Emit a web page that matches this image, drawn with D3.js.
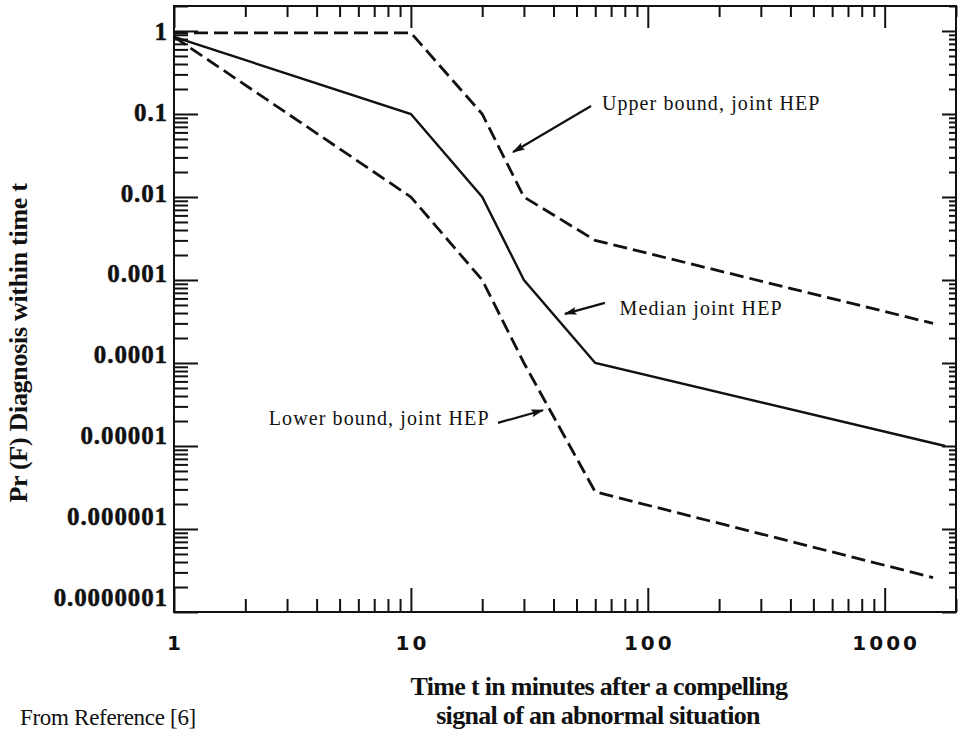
<!DOCTYPE html>
<html>
<head>
<meta charset="utf-8">
<script src="https://cdn.jsdelivr.net/npm/d3@7"></script>
<style>
  body { margin: 0; background: #fff; }
  svg { display: block; }
</style>
</head>
<body>
<svg id="chart" width="962" height="731"></svg>
<script>
// values (time in minutes, probability)
const medianT = [1, 10, 20, 30, 60, 1800];
const medianP = [0.85, 0.1, 0.01, 0.001, 0.0001, 0.00001];

const upperT = [1, 10, 20, 30, 60, 1600];
const upperP = [0.95, 0.95, 0.1, 0.01, 0.003, 0.0003];

const lowerT = [1, 10, 20, 30, 60, 1600];
const lowerP = [0.85, 0.01, 0.001, 0.0001, 0.0000028, 0.00000026];

const xLabels = [1, 10, 100, 1000];
const yLabels = [1, 0.1, 0.01, 0.001, 0.0001, 0.00001, 0.000001, 0.0000001];
const yLabelText = ['1', '0.1', '0.01', '0.001', '0.0001', '0.00001', '0.000001', '0.0000001'];

// annotations: text anchor, arrow tail, arrow tip (data coords)
const noteText = ['Upper bound, joint HEP', 'Median joint HEP', 'Lower bound, joint HEP'];
const noteAnchor = ['start', 'start', 'end'];
const noteXY = [[64, 0.112], [76, 0.00038], [21.5, 0.000018]];
const noteTail = [[57.6, 0.125], [65.9, 0.00053], [23.3, 0.000019]];
const noteTip = [[27, 0.0348], [44.7, 0.00039], [36.1, 0.000027]];

const svg = d3.select('#chart');
const ink = '#111';
const serif = '"Liberation Serif", "Times New Roman", serif';

// plot frame
const fLeft = 174, fRight = 956, fTop = 6, fBottom = 612;

const x = d3.scaleLog().domain([1, 2000]).range([fLeft, fRight]);
const y = d3.scaleLog().domain([1e-7, 2]).range([fBottom, fTop]);

const xMinor = x.ticks().filter(d => !xLabels.includes(d));
const yMinor = y.ticks().filter(d => !yLabels.some(v => Math.abs(v - d) < v * 1e-6));

function tickGroup(axis, tr) {
  svg.append('g')
    .attr('transform', tr)
    .attr('color', ink)
    .call(axis)
    .call(g => g.select('.domain').remove())
    .call(g => g.selectAll('line').attr('stroke-width', 2));
}

// ticks all point into the plot
tickGroup(d3.axisBottom(x).tickValues(xMinor).tickSize(-13).tickFormat(''), `translate(0,${fBottom})`);
tickGroup(d3.axisBottom(x).tickValues(xLabels).tickSize(-24).tickFormat(''), `translate(0,${fBottom})`);
tickGroup(d3.axisTop(x).tickValues(xMinor).tickSize(-11).tickFormat(''), `translate(0,${fTop})`);
tickGroup(d3.axisTop(x).tickValues(xLabels).tickSize(-22).tickFormat(''), `translate(0,${fTop})`);
tickGroup(d3.axisLeft(y).tickValues(yMinor).tickSize(-14).tickFormat(''), `translate(${fLeft},0)`);
tickGroup(d3.axisLeft(y).tickValues(yLabels).tickSize(-24).tickFormat(''), `translate(${fLeft},0)`);
tickGroup(d3.axisRight(y).tickValues(yMinor).tickSize(-7).tickFormat(''), `translate(${fRight},0)`);
tickGroup(d3.axisRight(y).tickValues(yLabels).tickSize(-14).tickFormat(''), `translate(${fRight},0)`);

svg.append('rect')
  .attr('x', fLeft).attr('y', fTop)
  .attr('width', fRight - fLeft).attr('height', fBottom - fTop)
  .attr('fill', 'none')
  .attr('stroke', ink)
  .attr('stroke-width', 2);

// x tick labels
svg.append('g').selectAll('text')
  .data(xLabels)
  .enter().append('text')
  .attr('x', d => x(d) + 1.5)
  .attr('y', 650)
  .attr('text-anchor', 'middle')
  .attr('font-family', '"DejaVu Sans", sans-serif')
  .attr('font-weight', 'bold')
  .attr('font-size', 20)
  .attr('letter-spacing', 3)
  .attr('fill', ink)
  .text(d => d);

// y tick labels (the scan drifts upward a little lower down)
svg.append('g').selectAll('text')
  .data(yLabels)
  .enter().append('text')
  .attr('x', fLeft - 6)
  .attr('y', d => y(d) + 2.1 * Math.log10(d))
  .attr('dy', '0.35em')
  .attr('text-anchor', 'end')
  .attr('font-family', serif)
  .attr('font-weight', 'bold')
  .attr('font-size', 25)
  .attr('letter-spacing', 0.9)
  .attr('fill', ink)
  .attr('stroke', ink)
  .attr('stroke-width', 0.5)
  .text((d, i) => yLabelText[i]);

// curves
const line = d3.line().x(d => x(d[0])).y(d => y(d[1]));
const series = [
  { t: upperT, p: upperP, dash: '14,6', w: 2.8 },
  { t: medianT, p: medianP, dash: null, w: 2.4 },
  { t: lowerT, p: lowerP, dash: '14,6', w: 2.8 }
];

svg.append('g').selectAll('path')
  .data(series)
  .enter().append('path')
  .attr('d', s => line(s.t.map((t, i) => [t, s.p[i]])))
  .attr('fill', 'none')
  .attr('stroke', ink)
  .attr('stroke-width', s => s.w)
  .attr('stroke-dasharray', s => s.dash);

// arrowhead
svg.append('defs').append('marker')
  .attr('id', 'arrow')
  .attr('viewBox', '0 0 10 10')
  .attr('refX', 9).attr('refY', 5)
  .attr('markerWidth', 6).attr('markerHeight', 3.6)
  .attr('orient', 'auto')
  .attr('markerUnits', 'strokeWidth')
  .attr('preserveAspectRatio', 'none')
  .append('path')
  .attr('d', 'M0,0 L10,5 L0,10 L2,5 z')
  .attr('fill', ink);

const notes = svg.append('g');
noteText.forEach((txt, i) => {
  notes.append('line')
    .attr('x1', x(noteTail[i][0])).attr('y1', y(noteTail[i][1]))
    .attr('x2', x(noteTip[i][0])).attr('y2', y(noteTip[i][1]))
    .attr('stroke', ink)
    .attr('stroke-width', 2.2)
    .attr('marker-end', 'url(#arrow)');
  notes.append('text')
    .attr('x', x(noteXY[i][0]))
    .attr('y', y(noteXY[i][1]))
    .attr('text-anchor', noteAnchor[i])
    .attr('font-family', serif)
    .attr('font-size', 20)
    .attr('letter-spacing', 1.1)
    .attr('fill', ink)
    .text(txt);
});

// axis titles
svg.append('text')
  .attr('transform', 'translate(27, 343) rotate(-90)')
  .attr('text-anchor', 'middle')
  .attr('font-family', serif)
  .attr('font-weight', 'bold')
  .attr('font-size', 26)
  .attr('letter-spacing', -0.3)
  .attr('fill', ink)
  .text('Pr (F) Diagnosis within time t');

svg.append('text')
  .attr('x', 599)
  .attr('y', 695)
  .attr('text-anchor', 'middle')
  .attr('font-family', serif)
  .attr('font-weight', 'bold')
  .attr('font-size', 26)
  .attr('letter-spacing', -0.7)
  .attr('fill', ink)
  .text('Time t in minutes after a compelling');

svg.append('text')
  .attr('x', 598)
  .attr('y', 724)
  .attr('text-anchor', 'middle')
  .attr('font-family', serif)
  .attr('font-weight', 'bold')
  .attr('font-size', 26)
  .attr('letter-spacing', -0.7)
  .attr('fill', ink)
  .text('signal of an abnormal situation');

svg.append('text')
  .attr('x', 20)
  .attr('y', 725)
  .attr('font-family', serif)
  .attr('font-size', 23)
  .attr('letter-spacing', -0.3)
  .attr('fill', ink)
  .text('From Reference [6]');
</script>
</body>
</html>
